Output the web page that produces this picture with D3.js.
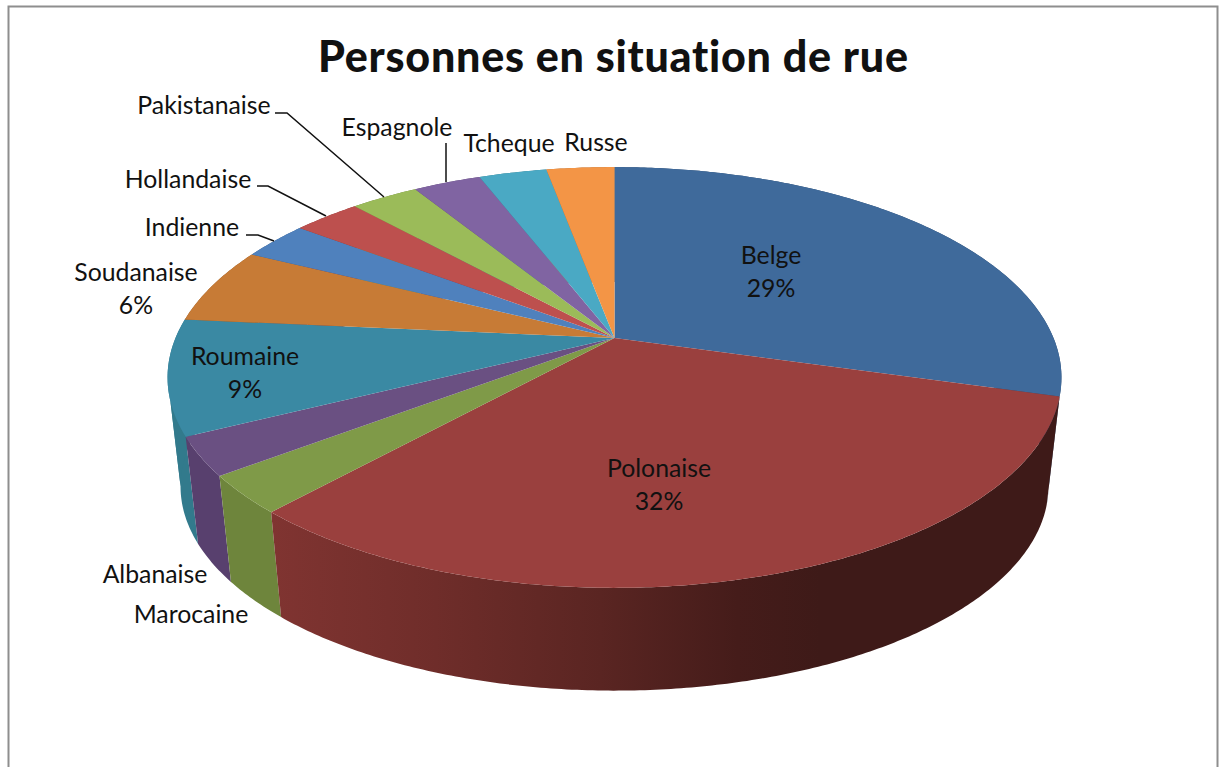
<!DOCTYPE html>
<html>
<head>
<meta charset="utf-8">
<script src="https://cdn.jsdelivr.net/npm/d3@7"></script>
<style>
  html, body { margin: 0; padding: 0; background: #fff; overflow: hidden; }
  text { font-family: Lato, "Open Sans", sans-serif; fill: #111; font-variant-ligatures: none; }
</style>
</head>
<body>
<div id="chart"></div>
<script>
const title = 'Personnes en situation de rue';
const categories = ['Belge', 'Polonaise', 'Marocaine', 'Albanaise', 'Roumaine', 'Soudanaise',
  'Indienne', 'Hollandaise', 'Pakistanaise', 'Espagnole', 'Tcheque', 'Russe'];
const values = [10, 11, 1, 1, 3, 2, 1, 1, 1, 1, 1, 1];
const percents = ['29%', '32%', '', '', '9%', '6%', '', '', '', '', '', ''];

const topColors = ['#3f6a9b', '#9a403e', '#7f9a48', '#6a5082', '#3a89a3', '#c77b36',
  '#4f81bd', '#bd504e', '#9bbb59', '#8064a2', '#4aa9c4', '#f39546'];
const wallColors = ['#2c4a6e', 'url(#polonaise-wall)', '#6e853c', '#58406e', '#327a8c', '#8c5626',
  '#375a84', '#863836', '#6c833e', '#5a4672', '#347888', '#ad6931'];

const width = 1221;
const height = 767;

// label anchors, x is the centre of the text and y the baseline of the first line
const labelX = [771, 659, 191, 155, 245, 136, 192, 188, 204, 397, 509, 596];
const labelY = [264, 477, 623, 583, 365, 281, 236, 188, 114, 136, 152, 151];

const leaders = [
  [[275, 113], [287, 113], [384, 197]],
  [[257, 186], [268, 186], [326, 216]],
  [[246, 235], [258, 235], [274, 241]],
  [[446, 143], [446, 182]],
];

// the pie sits on a plane seen in perspective
const cx = 614.5, cy = 338;
const rx = 439, ry = 203, persp = 0.1876;
const bottomScale = 0.971, depth = 110;

// where the rim is widest, a wall has to be cut there or its outline folds over itself
const tangents = [Math.acos(-persp), 2 * Math.PI - Math.acos(-persp)];

function project(a, scale, drop) {
  const u = Math.sin(a), v = -Math.cos(a);
  const w = 1 - persp * v;
  return [cx + rx * u / w * scale, cy + ry * v / w * scale + drop];
}

function rim(a0, a1, scale, drop) {
  const steps = Math.ceil((a1 - a0) / 0.01);
  const angle = d3.scaleLinear().domain([0, steps]).range([a0, a1]);
  return d3.range(steps + 1).map(k => project(angle(k), scale, drop));
}

const svg = d3.select('#chart').append('svg')
  .attr('width', width)
  .attr('height', height)
  .style('display', 'block');

const gradient = svg.append('defs').append('linearGradient')
  .attr('id', 'polonaise-wall')
  .attr('gradientUnits', 'userSpaceOnUse')
  .attr('x1', 271).attr('x2', 820).attr('y1', 0).attr('y2', 0);
gradient.selectAll('stop')
  .data([[0, '#803431'], [0.3, '#6f2d2a'], [0.6, '#5a2522'], [0.85, '#451c1a'], [1, '#3e1a18']])
  .join('stop')
  .attr('offset', d => d[0])
  .attr('stop-color', d => d[1]);

svg.append('rect')
  .attr('x', 8.5).attr('y', 6.5)
  .attr('width', 1209).attr('height', 800)
  .attr('fill', '#fff')
  .attr('stroke', '#8e8e8e')
  .attr('stroke-width', 2);

const pie = d3.pie().sort(null).value(d => d);
const arcs = pie(values);
const line = d3.line();

// walls back to front, the top face hides whatever is behind it
const order = d3.range(arcs.length).sort((a, b) =>
  Math.cos((arcs[b].startAngle + arcs[b].endAngle) / 2) - Math.cos((arcs[a].startAngle + arcs[a].endAngle) / 2));

const wallPieces = order.flatMap(i => {
  const { startAngle, endAngle } = arcs[i];
  const cuts = [startAngle, ...tangents.filter(t => t > startAngle && t < endAngle), endAngle];
  return d3.pairs(cuts).map(([a0, a1]) => ({ i, a0, a1 }));
});

svg.append('g')
  .selectAll('path')
  .data(wallPieces)
  .join('path')
  .attr('d', d => line([...rim(d.a0, d.a1, 1, 0), ...rim(d.a0, d.a1, bottomScale, depth).reverse()]) + 'Z')
  .attr('fill', d => wallColors[d.i]);

// top face
svg.append('g')
  .selectAll('path')
  .data(arcs)
  .join('path')
  .attr('d', d => line([[cx, cy], ...rim(d.startAngle, d.endAngle, 1, 0)]) + 'Z')
  .attr('fill', (d, i) => topColors[i]);

svg.append('g')
  .selectAll('path')
  .data(leaders)
  .join('path')
  .attr('d', d => line(d))
  .attr('fill', 'none')
  .attr('stroke', '#111')
  .attr('stroke-width', 1.5);

svg.append('text')
  .attr('x', 613)
  .attr('y', 72)
  .attr('text-anchor', 'middle')
  .attr('font-size', 43)
  .attr('font-weight', 900)
  .attr('textLength', 590)
  .attr('lengthAdjust', 'spacing')
  .text(title);

const labels = svg.append('g')
  .attr('font-size', 24.8)
  .attr('text-anchor', 'middle');

categories.forEach((name, i) => {
  labels.append('text').attr('x', labelX[i]).attr('y', labelY[i]).text(name);
  if (percents[i]) {
    labels.append('text').attr('x', labelX[i]).attr('y', labelY[i] + 33).text(percents[i]);
  }
});
</script>
</body>
</html>
